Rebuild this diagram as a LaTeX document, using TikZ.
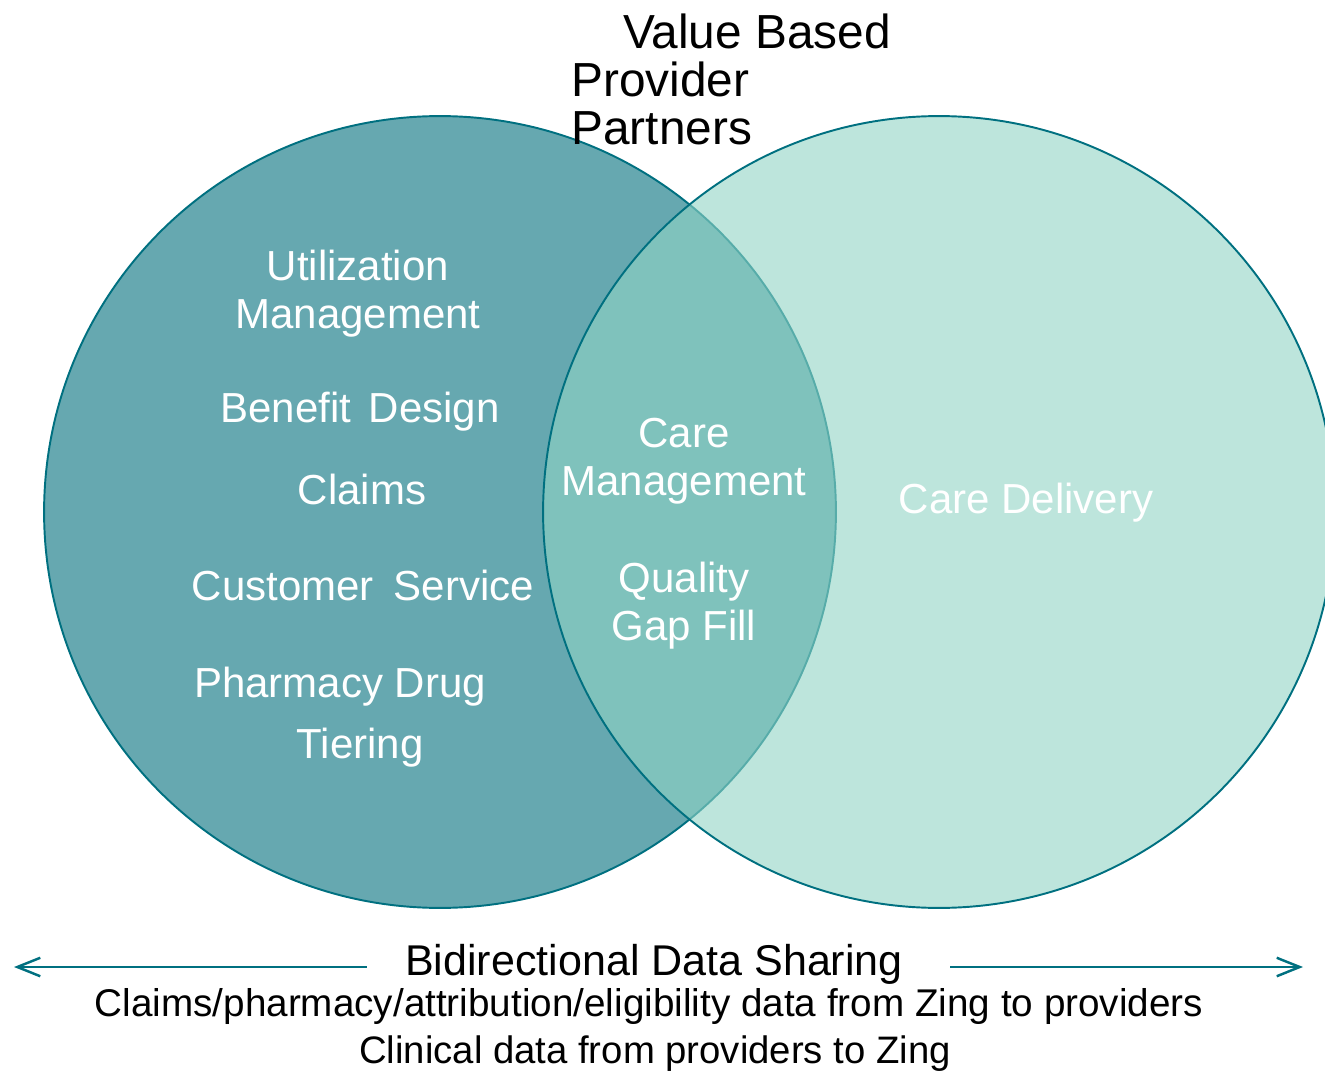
\documentclass[tikz,border=0pt]{standalone}
\usepackage{fontspec}
\setmainfont{Liberation Sans}
\usetikzlibrary{positioning, arrows.meta}
\definecolor{vbTeal}{RGB}{0,112,128}
\definecolor{vbPlan}{RGB}{102,168,176}
\definecolor{vbCare}{RGB}{145,212,197}

\begin{document}
\begin{tikzpicture}[
    x=0.02cm, y=-0.02cm,
    set/.style={circle, draw=vbTeal, line width=1.1pt, minimum size=15.84cm, inner sep=0pt},
    item/.style={text=white, font=\fontsize{23.9}{27.3}\selectfont, align=center, inner sep=0pt},
    note/.style={text=black, inner sep=0pt},
    arrow/.style={-{Straight Barb[length=0.46cm, width=0.37cm]}, line width=1.4pt, draw=vbTeal}
]
\useasboundingbox (0,0) rectangle (1325,1071);

% the two sets, payer on the left and providers on the right
\node[set, fill=vbPlan] (plan) at (440,512) {};
\node[set, fill=vbCare, fill opacity=0.6] (care) at (939,512) {};

\node[note, font=\fontsize{27.2}{27.3}\selectfont, align=left, anchor=north west] (vbp) at (571,14) {\hspace*{29.6pt}Value Based\\Provider\\Partners};

% payer side
\node[item] (um) at (358,294) {Utilization\\Management};
\node[item, anchor=base] (bd) at (360,422) {Benefit\hspace{0.15em} Design};
\node[item, anchor=base] (cl) at (362,504) {Claims};
\node[item, anchor=base] (cs) at (363,600) {Customer\hspace{0.2em} Service};
\node[item, anchor=base] (pd) at (340,697) {Pharmacy Drug};
\node[item, anchor=base] (ti) at (360,758) {Tiering};

% shared
\node[item] (cm) at (684,461) {Care\\Management};
\node[item] (qg) at (684,606) {Quality\\Gap Fill};

% provider side
\node[item, anchor=base] (cd) at (1026,513) {Care Delivery};

% data flow
\node[note, font=\fontsize{24.5}{27}\selectfont, anchor=base, inner xsep=0.76cm] (share) at (654,975) {Bidirectional Data Sharing};
\node[note, font=\fontsize{22}{27}\selectfont, anchor=base] (fromzing) at (649,1016) {Claims/pharmacy/attribution/eligibility data from Zing to providers};
\node[note, font=\fontsize{21.8}{27}\selectfont, anchor=base] (tozing) at (655,1063) {Clinical data from providers to Zing};

\coordinate (lend) at (14,967);
\coordinate (rend) at (1303,967);
\draw[arrow] (share.west |- lend) -- (lend);
\draw[arrow, shorten <=0.18cm] (share.east |- rend) -- (rend);
\end{tikzpicture}
\end{document}
